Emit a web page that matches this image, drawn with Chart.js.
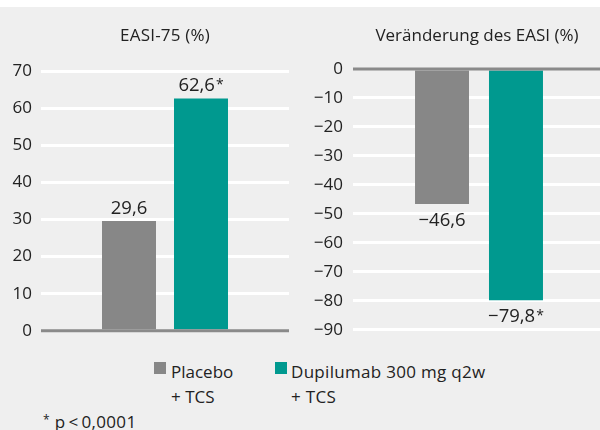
<!DOCTYPE html>
<html><head><meta charset="utf-8">
<script src="https://cdn.jsdelivr.net/npm/chart.js@4/dist/chart.umd.min.js"></script>
<style>
html,body{margin:0;padding:0;}
body{width:600px;height:430px;overflow:hidden;background:#fff;position:relative;font-family:'Open Sans',sans-serif;color:#222;}
#bg{position:absolute;left:0;top:7px;width:600px;height:423px;background:#efefef;}
canvas{position:absolute;top:0;}
#c1{left:0;}
#c2{left:300px;}
.t{position:absolute;font-size:17px;line-height:17px;white-space:nowrap;color:#222;}
.sq{position:absolute;width:12px;height:12px;}
</style></head>
<body>
<div id="bg"></div>
<canvas id="c1" width="300" height="350"></canvas>
<canvas id="c2" width="305" height="350"></canvas>
<div class="t" id="title1" style="left:0;width:330px;text-align:center;top:26px;letter-spacing:0.2px;">EASI-75 (%)</div>
<div class="t" id="title2" style="left:300px;width:354px;text-align:center;top:26px;">Veränderung des EASI (%)</div>
<div class="sq" style="left:154px;top:362px;background:#878787;"></div>
<div class="t" style="left:171px;top:360px;line-height:24.5px;" id="lg1"></div>
<div class="sq" style="left:275px;top:362px;background:#00998f;"></div>
<div class="t" style="left:291px;top:360px;line-height:24.5px;letter-spacing:0.3px;" id="lg2"></div>
<div class="t" style="left:43px;top:411px;letter-spacing:0.3px;"><span style="font-size:12px;vertical-align:4px;">*</span> p&#8201;&lt;&#8201;0,0001</div>
<script>
// ---- data ----
const categories = ['Placebo + TCS', 'Dupilumab 300 mg q2w + TCS'];
const legendLines = [['Placebo', '+ TCS'], ['Dupilumab 300 mg q2w', '+ TCS']];
const easi75 = [29.6, 62.6];
const easiChange = [-46.6, -79.8];
const significant = [false, true];
const ticksLeft = [0, 10, 20, 30, 40, 50, 60, 70];
const ticksRight = [0, -10, -20, -30, -40, -50, -60, -70, -80, -90];
const colors = ['#878787', '#00998f'];

document.getElementById('lg1').innerHTML = legendLines[0].join('<br>');
document.getElementById('lg2').innerHTML = legendLines[1].join('<br>');

const FONT = "'Open Sans', sans-serif";
const fmt = v => v.toFixed(1).replace('.', ',').replace('-', '\u2212');

const valuePlugin = {
  id: 'vals',
  afterDatasetsDraw(chart) {
    const ctx = chart.ctx;
    const yS = chart.scales.y;
    const y0 = yS.getPixelForValue(0);
    ctx.save();
    ctx.strokeStyle = '#8a8a8a';
    ctx.lineWidth = 3;
    ctx.beginPath();
    ctx.moveTo(chart.chartArea.left, y0);
    ctx.lineTo(chart.chartArea.right, y0);
    ctx.stroke();
    chart.data.datasets.forEach((ds, i) => {
      const bar = chart.getDatasetMeta(i).data[0];
      const v = ds.data[0];
      const txt = fmt(v);
      ctx.font = '18.5px ' + FONT;
      const w = ctx.measureText(txt).width;
      let aw = 0;
      if (ds.sig) { ctx.font = '14px ' + FONT; aw = ctx.measureText('*').width + 1; }
      const x0 = bar.x - (w + aw) / 2;
      const yb = v >= 0 ? bar.y - 7 : bar.y + 21.5;
      ctx.fillStyle = '#222';
      ctx.textAlign = 'left';
      ctx.textBaseline = 'alphabetic';
      ctx.font = '18.5px ' + FONT;
      ctx.fillText(txt, x0, yb);
      if (ds.sig) {
        ctx.font = '14px ' + FONT;
        ctx.fillText('*', x0 + w + 1, yb - 2);
      }
    });
    ctx.restore();
  }
};

function makeChart(id, values, ticks, yWidth, catPct, barPct, tickPad, top, bottom, padRight) {
  const min = Math.min(...ticks), max = Math.max(...ticks);
  return new Chart(document.getElementById(id), {
    type: 'bar',
    data: {
      labels: [''],
      datasets: values.map((v, i) => ({
        label: categories[i],
        data: [v],
        sig: significant[i],
        backgroundColor: colors[i],
        borderWidth: 0,
        categoryPercentage: catPct,
        barPercentage: barPct
      }))
    },
    options: {
      responsive: false,
      animation: false,
      devicePixelRatio: 1,
      layout: { padding: { top: top, right: padRight, bottom: 350 - bottom, left: 0 } },
      plugins: { legend: { display: false }, tooltip: { enabled: false } },
      scales: {
        x: { display: false },
        y: {
          min: min, max: max,
          afterFit: s => { s.width = yWidth; },
          afterBuildTicks: s => { s.ticks = ticks.map(v => ({ value: v })); },
          border: { display: false },
          grid: {
            drawTicks: false,
            color: c => (c.tick && c.tick.value === 0) ? 'rgba(0,0,0,0)' : '#ffffff',
            lineWidth: 3
          },
          ticks: {
            padding: tickPad,
            color: '#222',
            font: { family: FONT, size: 17 },
            callback: v => String(v).replace('-', '\u2212')
          }
        }
      }
    },
    plugins: [valuePlugin]
  });
}
makeChart('c1', easi75, ticksLeft, 41, 0.5806, 0.75, 9, 71, 335, 11);
makeChart('c2', easiChange, ticksRight, 53, 0.587, 0.73, 10, 69, 335, 0);
</script>
</body></html>
